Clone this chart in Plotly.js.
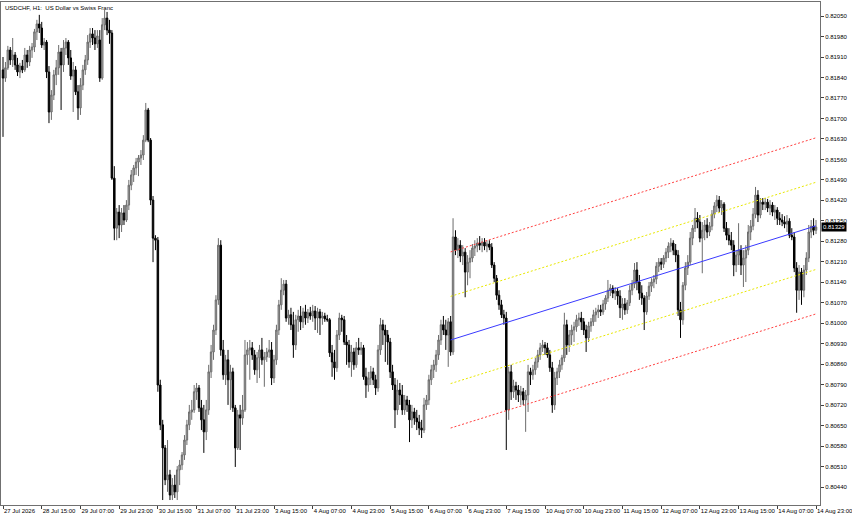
<!DOCTYPE html>
<html><head><meta charset="utf-8">
<script src="https://cdn.plot.ly/plotly-3.0.1.min.js"></script>
<style>html,body{margin:0;padding:0;background:#fff;}#chart{width:852px;height:520px;}</style>
</head><body><div id="chart"></div>
<script>
const tradingDays = ['2026-07-27','2026-07-28','2026-07-29','2026-07-30','2026-07-31','2026-08-03','2026-08-04','2026-08-05','2026-08-06','2026-08-07','2026-08-10','2026-08-11','2026-08-12','2026-08-13','2026-08-14'];

const openP = [
0.81866,0.81838,0.81873,0.81934,0.81900,0.81917,0.81883,0.81859,0.81879,0.81866,
0.81917,0.81893,0.81934,0.81944,0.81996,0.82023,0.82009,0.81951,0.81961,0.81859,
0.81722,0.81780,0.81849,0.81873,0.81927,0.81883,0.81941,0.81961,0.81907,0.81845,
0.81866,0.81791,0.81736,0.81814,0.81866,0.81900,0.81961,0.81989,0.81975,0.81955,
0.81968,0.81838,0.82020,0.82043,0.82002,0.81992,0.81496,0.81325,0.81380,0.81336,
0.81377,0.81353,0.81404,0.81472,0.81507,0.81531,0.81551,0.81565,0.81575,0.81626,
0.81729,0.81626,0.81421,0.81291,0.81284,0.80789,0.80653,0.80574,0.80465,0.80482,
0.80413,0.80447,0.80424,0.80499,0.80516,0.80550,0.80601,0.80653,0.80697,0.80704,
0.80766,0.80779,0.80711,0.80670,0.80629,0.80704,0.80834,0.80902,0.80977,0.81080,
0.81267,0.80909,0.80824,0.80875,0.80807,0.80834,0.80711,0.80574,0.80687,0.80676,
0.80704,0.80892,0.80909,0.80916,0.80892,0.80841,0.80882,0.80909,0.80875,0.80885,
0.80902,0.80909,0.80813,0.80875,0.80977,0.81063,0.81113,0.81134,0.81018,0.81029,
0.80995,0.80926,0.81012,0.81025,0.81005,0.81039,0.81018,0.81036,0.81025,0.81042,
0.81018,0.81039,0.81018,0.81025,0.81015,0.81012,0.80899,0.80868,0.80848,0.80960,
0.81018,0.81012,0.80936,0.80926,0.80868,0.80902,0.80858,0.80916,0.80909,0.80916,
0.80817,0.80789,0.80813,0.80834,0.80807,0.80779,0.80909,0.80995,0.80977,0.80960,
0.80936,0.80834,0.80789,0.80704,0.80772,0.80755,0.80704,0.80738,0.80721,0.80670,
0.80697,0.80676,0.80663,0.80642,0.80635,0.80721,0.80738,0.80807,0.80841,0.80858,
0.80892,0.80943,0.80995,0.80977,0.80960,0.81005,0.80902,0.81295,0.81250,0.81267,
0.81230,0.81243,0.81175,0.81209,0.81223,0.81257,0.81264,0.81274,0.81267,0.81277,
0.81264,0.81271,0.81260,0.81199,0.81154,0.81096,0.81063,0.81029,0.81018,0.80704,
0.80834,0.80766,0.80786,0.80772,0.80755,0.80766,0.80738,0.80755,0.80834,0.80824,
0.80841,0.80868,0.80892,0.80916,0.80926,0.80916,0.80892,0.80848,0.80721,0.80813,
0.80834,0.80858,0.80882,0.80995,0.80926,0.80960,0.80977,0.80988,0.81012,0.81018,
0.81005,0.80977,0.80950,0.80991,0.81005,0.81029,0.81039,0.81046,0.81039,0.81066,
0.81086,0.81113,0.81120,0.81103,0.81110,0.81093,0.81053,0.81066,0.81046,0.81070,
0.81113,0.81134,0.81182,0.81141,0.81103,0.81086,0.81039,0.81093,0.81127,0.81141,
0.81151,0.81195,0.81209,0.81202,0.81223,0.81243,0.81264,0.81274,0.81250,0.81233,
0.81046,0.81012,0.81130,0.81189,0.81209,0.81291,0.81325,0.81359,0.81346,0.81291,
0.81318,0.81336,0.81312,0.81332,0.81373,0.81401,0.81421,0.81394,0.81407,0.81325,
0.81301,0.81284,0.81267,0.81199,0.81233,0.81250,0.81199,0.81223,0.81250,0.81312,
0.81332,0.81373,0.81438,0.81370,0.81414,0.81407,0.81414,0.81394,0.81404,0.81380,
0.81387,0.81359,0.81353,0.81346,0.81339,0.81349,0.81301,0.81295,0.81189,0.81113,
0.81175,0.81113,0.81182,0.81223,0.81312,0.81332,0.81318];

const highP = [
0.81910,0.81893,0.81948,0.81944,0.81975,0.81927,0.81907,0.81890,0.81900,0.81941,
0.81934,0.81948,0.81958,0.82006,0.82037,0.82054,0.82030,0.81975,0.81968,0.81879,
0.81797,0.81866,0.81900,0.81951,0.81941,0.81968,0.81975,0.81968,0.81934,0.81893,
0.81879,0.81814,0.81838,0.81883,0.81917,0.81985,0.82009,0.82009,0.82002,0.82002,
0.82002,0.82043,0.82071,0.82064,0.82037,0.82002,0.81537,0.81394,0.81404,0.81394,
0.81404,0.81421,0.81490,0.81524,0.81541,0.81565,0.81575,0.81592,0.81643,0.81753,
0.81736,0.81633,0.81435,0.81301,0.81295,0.80807,0.80670,0.80584,0.80601,0.80499,
0.80471,0.80482,0.80512,0.80533,0.80560,0.80618,0.80670,0.80721,0.80738,0.80789,
0.80796,0.80789,0.80738,0.80721,0.80738,0.80858,0.80926,0.80995,0.81096,0.81291,
0.81284,0.80943,0.80892,0.80909,0.80858,0.80848,0.80721,0.80704,0.80721,0.80755,
0.80943,0.80936,0.80943,0.80936,0.80909,0.80902,0.80926,0.80950,0.80902,0.80916,
0.80943,0.80936,0.80892,0.80995,0.81080,0.81154,0.81148,0.81148,0.81046,0.81053,
0.81039,0.81029,0.81046,0.81059,0.81053,0.81063,0.81049,0.81056,0.81063,0.81059,
0.81053,0.81049,0.81039,0.81036,0.81029,0.81018,0.80926,0.80909,0.80977,0.81036,
0.81029,0.81025,0.80960,0.80943,0.80926,0.80916,0.80936,0.80950,0.80936,0.80926,
0.80848,0.80834,0.80854,0.80848,0.80824,0.80926,0.81018,0.81012,0.80995,0.80977,
0.80950,0.80858,0.80813,0.80807,0.80796,0.80789,0.80755,0.80752,0.80738,0.80721,
0.80711,0.80704,0.80687,0.80670,0.80745,0.80755,0.80824,0.80858,0.80875,0.80909,
0.80960,0.81012,0.81025,0.81012,0.81018,0.81025,0.81359,0.81318,0.81291,0.81284,
0.81267,0.81257,0.81233,0.81250,0.81271,0.81284,0.81291,0.81298,0.81291,0.81291,
0.81284,0.81284,0.81274,0.81209,0.81165,0.81113,0.81080,0.81046,0.81039,0.80851,
0.80858,0.80807,0.80800,0.80789,0.80786,0.80779,0.80772,0.80858,0.80848,0.80858,
0.80882,0.80909,0.80933,0.80943,0.80936,0.80933,0.80909,0.80868,0.80834,0.80848,
0.80875,0.80892,0.81036,0.81012,0.80977,0.80995,0.81005,0.81029,0.81036,0.81039,
0.81018,0.80995,0.81005,0.81018,0.81046,0.81053,0.81063,0.81063,0.81080,0.81096,
0.81148,0.81134,0.81130,0.81124,0.81120,0.81113,0.81086,0.81086,0.81080,0.81130,
0.81148,0.81206,0.81209,0.81165,0.81130,0.81096,0.81107,0.81141,0.81154,0.81165,
0.81209,0.81223,0.81223,0.81233,0.81257,0.81277,0.81291,0.81284,0.81271,0.81250,
0.81073,0.81141,0.81209,0.81233,0.81312,0.81336,0.81394,0.81380,0.81370,0.81346,
0.81353,0.81359,0.81346,0.81387,0.81414,0.81438,0.81435,0.81421,0.81414,0.81346,
0.81325,0.81312,0.81284,0.81250,0.81342,0.81267,0.81250,0.81267,0.81336,0.81353,
0.81394,0.81466,0.81455,0.81428,0.81428,0.81428,0.81425,0.81421,0.81414,0.81404,
0.81397,0.81380,0.81373,0.81366,0.81370,0.81359,0.81325,0.81312,0.81209,0.81199,
0.81189,0.81199,0.81243,0.81336,0.81353,0.81359,0.81353];

const lowP = [
0.81637,0.81825,0.81866,0.81883,0.81876,0.81866,0.81845,0.81838,0.81855,0.81859,
0.81873,0.81879,0.81907,0.81927,0.81968,0.81992,0.81941,0.81934,0.81838,0.81684,
0.81695,0.81763,0.81814,0.81849,0.81729,0.81859,0.81917,0.81883,0.81832,0.81722,
0.81780,0.81695,0.81712,0.81797,0.81849,0.81883,0.81941,0.81951,0.81934,0.81941,
0.81825,0.81832,0.82002,0.81985,0.81955,0.81490,0.81284,0.81284,0.81291,0.81312,
0.81336,0.81346,0.81387,0.81455,0.81483,0.81507,0.81503,0.81541,0.81558,0.81619,
0.81619,0.81404,0.81209,0.81250,0.80766,0.80635,0.80396,0.80447,0.80424,0.80396,
0.80396,0.80403,0.80396,0.80447,0.80499,0.80533,0.80584,0.80635,0.80670,0.80694,
0.80738,0.80697,0.80635,0.80557,0.80601,0.80687,0.80813,0.80875,0.80960,0.81063,
0.80889,0.80807,0.80789,0.80721,0.80704,0.80697,0.80509,0.80567,0.80567,0.80653,
0.80697,0.80858,0.80807,0.80875,0.80824,0.80796,0.80813,0.80858,0.80783,0.80868,
0.80882,0.80789,0.80796,0.80858,0.80960,0.81046,0.81096,0.81005,0.80995,0.80977,
0.80882,0.80909,0.80971,0.80977,0.80984,0.80995,0.81001,0.81012,0.81005,0.80977,
0.80967,0.80960,0.80995,0.81005,0.81005,0.80885,0.80817,0.80807,0.80834,0.80943,
0.80971,0.80926,0.80858,0.80848,0.80817,0.80841,0.80848,0.80892,0.80892,0.80807,
0.80745,0.80766,0.80789,0.80789,0.80755,0.80766,0.80892,0.80926,0.80868,0.80858,
0.80813,0.80772,0.80642,0.80687,0.80721,0.80687,0.80687,0.80697,0.80594,0.80642,
0.80653,0.80635,0.80618,0.80608,0.80625,0.80704,0.80721,0.80789,0.80813,0.80834,
0.80875,0.80926,0.80960,0.80909,0.80851,0.80889,0.80892,0.81233,0.81223,0.81209,
0.81199,0.81089,0.81130,0.81154,0.81209,0.81230,0.81243,0.81250,0.81243,0.81250,
0.81243,0.81250,0.81189,0.81141,0.81080,0.81046,0.81018,0.80995,0.80567,0.80670,
0.80738,0.80745,0.80738,0.80731,0.80721,0.80721,0.80629,0.80697,0.80789,0.80807,
0.80824,0.80848,0.80875,0.80902,0.80892,0.80882,0.80834,0.80694,0.80704,0.80789,
0.80813,0.80841,0.80868,0.80892,0.80902,0.80926,0.80936,0.80971,0.80991,0.80977,
0.80960,0.80902,0.80936,0.80971,0.80991,0.81005,0.81018,0.81025,0.81029,0.81046,
0.81073,0.81093,0.81086,0.81080,0.81063,0.81018,0.81012,0.81029,0.81032,0.81059,
0.81096,0.81120,0.81113,0.81080,0.81063,0.80977,0.81029,0.81080,0.81107,0.81120,
0.81134,0.81175,0.81182,0.81189,0.81209,0.81223,0.81243,0.81233,0.81209,0.81025,
0.80950,0.80995,0.81113,0.81165,0.81199,0.81267,0.81312,0.81325,0.81277,0.81171,
0.81284,0.81291,0.81298,0.81318,0.81359,0.81380,0.81380,0.81370,0.81312,0.81284,
0.81267,0.81250,0.81161,0.81175,0.81199,0.81165,0.81124,0.81141,0.81233,0.81284,
0.81318,0.81359,0.81346,0.81359,0.81387,0.81387,0.81380,0.81370,0.81366,0.81353,
0.81336,0.81336,0.81332,0.81325,0.81312,0.81291,0.81284,0.81175,0.81036,0.81080,
0.81063,0.81089,0.81165,0.81209,0.81291,0.81301,0.81305];

const closeP = [
0.81838,0.81873,0.81934,0.81900,0.81917,0.81883,0.81859,0.81879,0.81866,0.81917,
0.81893,0.81934,0.81944,0.81996,0.82023,0.82009,0.81951,0.81961,0.81859,0.81722,
0.81780,0.81849,0.81873,0.81927,0.81883,0.81941,0.81961,0.81907,0.81845,0.81866,
0.81791,0.81736,0.81814,0.81866,0.81900,0.81961,0.81989,0.81975,0.81955,0.81982,
0.81838,0.82020,0.82043,0.82002,0.81992,0.81496,0.81325,0.81380,0.81336,0.81377,
0.81353,0.81404,0.81472,0.81507,0.81531,0.81551,0.81565,0.81575,0.81626,0.81729,
0.81626,0.81421,0.81291,0.81284,0.80789,0.80653,0.80574,0.80465,0.80482,0.80413,
0.80447,0.80424,0.80499,0.80516,0.80550,0.80601,0.80653,0.80697,0.80704,0.80766,
0.80779,0.80711,0.80670,0.80629,0.80704,0.80834,0.80902,0.80977,0.81080,0.81267,
0.80909,0.80824,0.80875,0.80807,0.80834,0.80711,0.80574,0.80687,0.80676,0.80704,
0.80892,0.80909,0.80916,0.80892,0.80841,0.80882,0.80909,0.80875,0.80885,0.80902,
0.80909,0.80813,0.80875,0.80977,0.81063,0.81113,0.81134,0.81018,0.81029,0.80995,
0.80926,0.81012,0.81025,0.81005,0.81039,0.81018,0.81036,0.81025,0.81042,0.81018,
0.81039,0.81018,0.81025,0.81015,0.81012,0.80899,0.80868,0.80848,0.80960,0.81018,
0.81012,0.80936,0.80926,0.80868,0.80902,0.80858,0.80916,0.80909,0.80916,0.80817,
0.80789,0.80813,0.80834,0.80807,0.80779,0.80909,0.80995,0.80977,0.80960,0.80936,
0.80834,0.80789,0.80704,0.80772,0.80755,0.80704,0.80738,0.80721,0.80670,0.80697,
0.80676,0.80663,0.80642,0.80635,0.80721,0.80738,0.80807,0.80841,0.80858,0.80892,
0.80943,0.80995,0.80977,0.80960,0.81005,0.80902,0.81295,0.81250,0.81267,0.81230,
0.81243,0.81175,0.81209,0.81223,0.81257,0.81264,0.81274,0.81267,0.81277,0.81264,
0.81271,0.81260,0.81199,0.81154,0.81096,0.81063,0.81029,0.81018,0.80704,0.80834,
0.80766,0.80786,0.80772,0.80755,0.80766,0.80738,0.80755,0.80834,0.80824,0.80841,
0.80868,0.80892,0.80916,0.80926,0.80916,0.80892,0.80848,0.80721,0.80813,0.80834,
0.80858,0.80882,0.80995,0.80926,0.80960,0.80977,0.80988,0.81012,0.81018,0.81005,
0.80977,0.80950,0.80991,0.81005,0.81029,0.81039,0.81046,0.81039,0.81066,0.81086,
0.81113,0.81120,0.81103,0.81110,0.81093,0.81053,0.81066,0.81046,0.81070,0.81113,
0.81134,0.81182,0.81141,0.81103,0.81086,0.81039,0.81093,0.81127,0.81141,0.81151,
0.81195,0.81209,0.81202,0.81223,0.81243,0.81264,0.81274,0.81250,0.81233,0.81046,
0.81012,0.81130,0.81189,0.81209,0.81291,0.81325,0.81359,0.81346,0.81291,0.81318,
0.81336,0.81312,0.81332,0.81373,0.81401,0.81421,0.81394,0.81407,0.81325,0.81301,
0.81284,0.81267,0.81199,0.81233,0.81250,0.81199,0.81223,0.81250,0.81312,0.81332,
0.81373,0.81438,0.81370,0.81414,0.81407,0.81414,0.81394,0.81404,0.81380,0.81387,
0.81359,0.81353,0.81346,0.81339,0.81349,0.81301,0.81295,0.81189,0.81113,0.81175,
0.81113,0.81182,0.81223,0.81312,0.81332,0.81318,0.81329];

const tickTimes = ['2026-07-27 23:00','2026-07-28 15:00','2026-07-29 07:00','2026-07-29 23:00','2026-07-30 15:00','2026-07-31 07:00','2026-07-31 23:00','2026-08-03 15:00','2026-08-04 07:00','2026-08-04 23:00','2026-08-05 15:00','2026-08-06 07:00','2026-08-06 23:00','2026-08-07 15:00','2026-08-10 07:00','2026-08-10 23:00','2026-08-11 15:00','2026-08-12 07:00','2026-08-12 23:00','2026-08-13 15:00','2026-08-14 07:00','2026-08-14 23:00'];
const tickLabels = ['27 Jul 2026','28 Jul 15:00','29 Jul 07:00','29 Jul 23:00','30 Jul 15:00','31 Jul 07:00','31 Jul 23:00','3 Aug 15:00','4 Aug 07:00','4 Aug 23:00','5 Aug 15:00','6 Aug 07:00','6 Aug 23:00','7 Aug 15:00','10 Aug 07:00','10 Aug 23:00','11 Aug 15:00','12 Aug 07:00','12 Aug 23:00','13 Aug 15:00','14 Aug 07:00','14 Aug 23:00'];

const priceTicks = [0.80440,0.80510,0.80580,0.80650,0.80720,0.80790,0.80860,0.80930,0.81000,0.81070,0.81140,0.81210,0.81280,0.81350,0.81420,0.81490,0.81560,0.81630,0.81700,0.81770,0.81840,0.81910,0.81980,0.82050];
const priceTickLabels = ['0.80440','0.80510','0.80580','0.80650','0.80720','0.80790','0.80860','0.80930','0.81000','0.81070','0.81140','0.81210','0.81280','0.81350','0.81420','0.81490','0.81560','0.81630','0.81700','0.81770','0.81840','0.81910','0.81980','0.82050'];

const channelTimes = ['2026-08-06 16:00','2026-08-14 23:00'];
const channelMid = [0.80943,0.81333];
const channelUp1 = [0.81092,0.81482];
const channelDn1 = [0.80794,0.81184];
const channelUp2 = [0.81244,0.81634];
const channelDn2 = [0.80642,0.81032];

const symbolTitle = 'USDCHF, H1:  US Dollar vs Swiss Franc';
const lastPrice = 0.81329;

const times = [];
tradingDays.forEach((d, k) => {
  for (let h = 0; h < 24; h++) {
    if (k === 0 && h < 23) continue;
    times.push(d + ' ' + String(h).padStart(2, '0') + ':00');
  }
});

function chanLine(y, color, dash) {
  return {type: 'scatter', mode: 'lines', x: channelTimes, y: y,
    line: {color: color, width: 1, dash: dash}, hoverinfo: 'skip', showlegend: false};
}

const traces = [
  {type: 'candlestick', x: times, open: openP, high: highP, low: lowP, close: closeP,
   increasing: {line: {color: '#6c6c6c', width: 1}, fillcolor: '#a8a8a8'},
   decreasing: {line: {color: '#000000', width: 1}, fillcolor: '#000000'},
   whiskerwidth: 0, hoverinfo: 'skip', showlegend: false},
  chanLine(channelUp2, '#ff4040', '2px,2px'),
  chanLine(channelDn2, '#ff4040', '2px,2px'),
  chanLine(channelUp1, '#e8e800', '2px,2px'),
  chanLine(channelDn1, '#e8e800', '2px,2px'),
  chanLine(channelMid, '#3a3aff', 'solid')
];

const fontFam = 'Liberation Sans, Arial, sans-serif';
const layout = {
  width: 852, height: 520,
  margin: {l: 1, r: 32, t: 2, b: 15, pad: 0},
  paper_bgcolor: '#ffffff', plot_bgcolor: '#ffffff',
  showlegend: false,
  boxgap: 0.12,
  font: {family: fontFam, size: 6, color: '#000'},
  xaxis: {type: 'category', range: [-0.83, 337.65], rangeslider: {visible: false},
    showgrid: false, zeroline: false, showline: true, mirror: true, linecolor: '#707070', linewidth: 1,
    tickmode: 'array', tickvals: tickTimes, ticktext: tickLabels,
    ticks: 'outside', ticklen: 3, tickcolor: '#404040', tickwidth: 1, tickangle: 0,
    ticklabelposition: 'outside right', tickfont: {family: fontFam, size: 6, color: '#000'}, fixedrange: true},
  yaxis: {side: 'right', range: [0.80379, 0.82098],
    showgrid: false, zeroline: false, showline: true, mirror: true, linecolor: '#707070', linewidth: 1,
    tickmode: 'array', tickvals: priceTicks, ticktext: priceTickLabels,
    ticks: 'outside', ticklen: 3, tickcolor: '#404040', tickwidth: 1,
    tickfont: {family: fontFam, size: 6, color: '#000'}, fixedrange: true},
  annotations: [
    {xref: 'paper', yref: 'paper', x: 0, y: 1, xanchor: 'left', yanchor: 'top', xshift: 2, yshift: -1,
     text: symbolTitle, showarrow: false, font: {family: fontFam, size: 6, color: '#000'}},
    {xref: 'paper', yref: 'y', x: 1, y: lastPrice, xanchor: 'left', yanchor: 'middle', xshift: 1,
     text: lastPrice.toFixed(5), showarrow: false, bgcolor: '#000000', borderpad: 1,
     font: {family: fontFam, size: 6, color: '#ffffff'}}
  ]
};

Plotly.newPlot('chart', traces, layout, {displayModeBar: false, staticPlot: true});
</script>
</body></html>
